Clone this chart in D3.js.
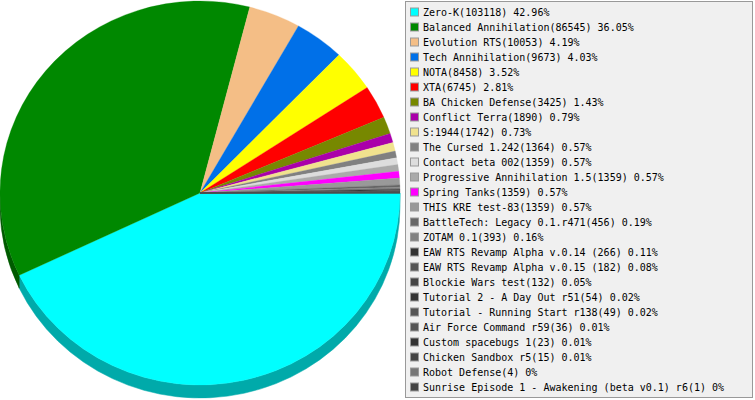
<!DOCTYPE html>
<html>
<head>
<meta charset="utf-8">
<script src="https://cdn.jsdelivr.net/npm/d3@7/dist/d3.min.js"></script>
<style>
  body { margin: 0; background: #fff; }
  .legend { font-family: "DejaVu Sans Mono", monospace; font-size: 10px; fill: #000; }
</style>
</head>
<body>
<div id="chart"></div>
<script>
// data
var names = ["Zero-K", "Balanced Annihilation", "Evolution RTS", "Tech Annihilation", "NOTA", "XTA",
  "BA Chicken Defense", "Conflict Terra", "S:1944", "The Cursed 1.242", "Contact beta 002",
  "Progressive Annihilation 1.5", "Spring Tanks", "THIS KRE test-83", "BattleTech: Legacy 0.1.r471",
  "ZOTAM 0.1", "EAW RTS Revamp Alpha v.0.14 ", "EAW RTS Revamp Alpha v.0.15 ", "Blockie Wars test",
  "Tutorial 2 - A Day Out r51", "Tutorial - Running Start r138", "Air Force Command r59",
  "Custom spacebugs 1", "Chicken Sandbox r5", "Robot Defense", "Sunrise Episode 1 - Awakening (beta v0.1) r6"];
var values = [103118, 86545, 10053, 9673, 8458, 6745, 3425, 1890, 1742, 1364, 1359, 1359, 1359, 1359,
  456, 393, 266, 182, 132, 54, 49, 36, 23, 15, 4, 1];
var colors = ["#00ffff", "#008800", "#f4be86", "#0070e8", "#ffff00", "#ff0000", "#778800", "#aa00aa",
  "#f0e28e", "#808080", "#dddddd", "#aaaaaa", "#ff00ff", "#999999", "#666666", "#808080",
  "#333333", "#555555", "#444444", "#333333", "#555555", "#555555", "#333333", "#444444",
  "#777777", "#444444"];

var w = 755, h = 400;
var cx = 200, cy = 193, rx = 200, ry = 192, depth = 13;

var svg = d3.select("#chart").append("svg")
    .attr("width", w)
    .attr("height", h);

var total = d3.sum(values);
var items = names.map(function(n, i) { return {name: n, value: values[i], color: colors[i]}; });

// angles: start at east, go clockwise
var pie = d3.pie()
    .value(function(d) { return d.value; })
    .sort(null)
    .startAngle(Math.PI / 2)
    .endAngle(Math.PI / 2 + 2 * Math.PI);
var arcs = pie(items);

function px(a) { return cx + rx * Math.sin(a); }
function py(a, dy) { return cy - ry * Math.cos(a) + (dy || 0); }

// <-- SIDES (front half only) -------------
var pieG = svg.append("g");
arcs.forEach(function(d) {
  var a0 = Math.max(d.startAngle, Math.PI / 2),
      a1 = Math.min(d.endAngle, 3 * Math.PI / 2);
  if (a1 <= a0) return;
  var big = (a1 - a0) > Math.PI ? 1 : 0;
  var p = "M" + px(a0) + "," + py(a0) +
    "A" + rx + "," + ry + " 0 " + big + " 1 " + px(a1) + "," + py(a1) +
    "L" + px(a1) + "," + py(a1, depth) +
    "A" + rx + "," + ry + " 0 " + big + " 0 " + px(a0) + "," + py(a0, depth) + "Z";
  var c = d3.rgb(d.data.color);
  var side = d3.rgb(c.r * 2 / 3, c.g * 2 / 3, c.b * 2 / 3);
  pieG.append("path").attr("d", p).attr("fill", side).attr("stroke", side).attr("stroke-width", 0.5);
});
// -- SIDES ------------->

// <-- TOP -------------
arcs.forEach(function(d) {
  var a0 = d.startAngle, a1 = d.endAngle;
  var big = (a1 - a0) > Math.PI ? 1 : 0;
  var p = "M" + cx + "," + cy +
    "L" + px(a0) + "," + py(a0) +
    "A" + rx + "," + ry + " 0 " + big + " 1 " + px(a1) + "," + py(a1) + "Z";
  pieG.append("path").attr("d", p).attr("fill", d.data.color)
    .attr("stroke", d.data.color).attr("stroke-width", 0.3);
});
// -- TOP ------------->

// <-- LEGEND -------------
var lg = svg.append("g");
lg.append("rect")
    .attr("x", 405.5).attr("y", 1.5)
    .attr("width", 347).attr("height", 396)
    .attr("fill", "#f0f0f0")
    .attr("stroke", "#999999");

var row = d3.scaleLinear().domain([0, items.length - 1]).range([12, 387]);

items.forEach(function(d, i) {
  lg.append("rect")
      .attr("x", 410.5)
      .attr("y", row(i) - 4)
      .attr("width", 8).attr("height", 8)
      .attr("fill", d.color)
      .attr("stroke", "#999999");
  lg.append("text")
      .attr("class", "legend")
      .attr("x", 423)
      .attr("y", row(i) + 3.5)
      .attr("xml:space", "preserve")
      .style("white-space", "pre")
      .text(d.name + "(" + d.value + ") " + (+(d.value / total * 100).toFixed(2)) + "%");
});
// -- LEGEND ------------->
</script>
</body>
</html>
